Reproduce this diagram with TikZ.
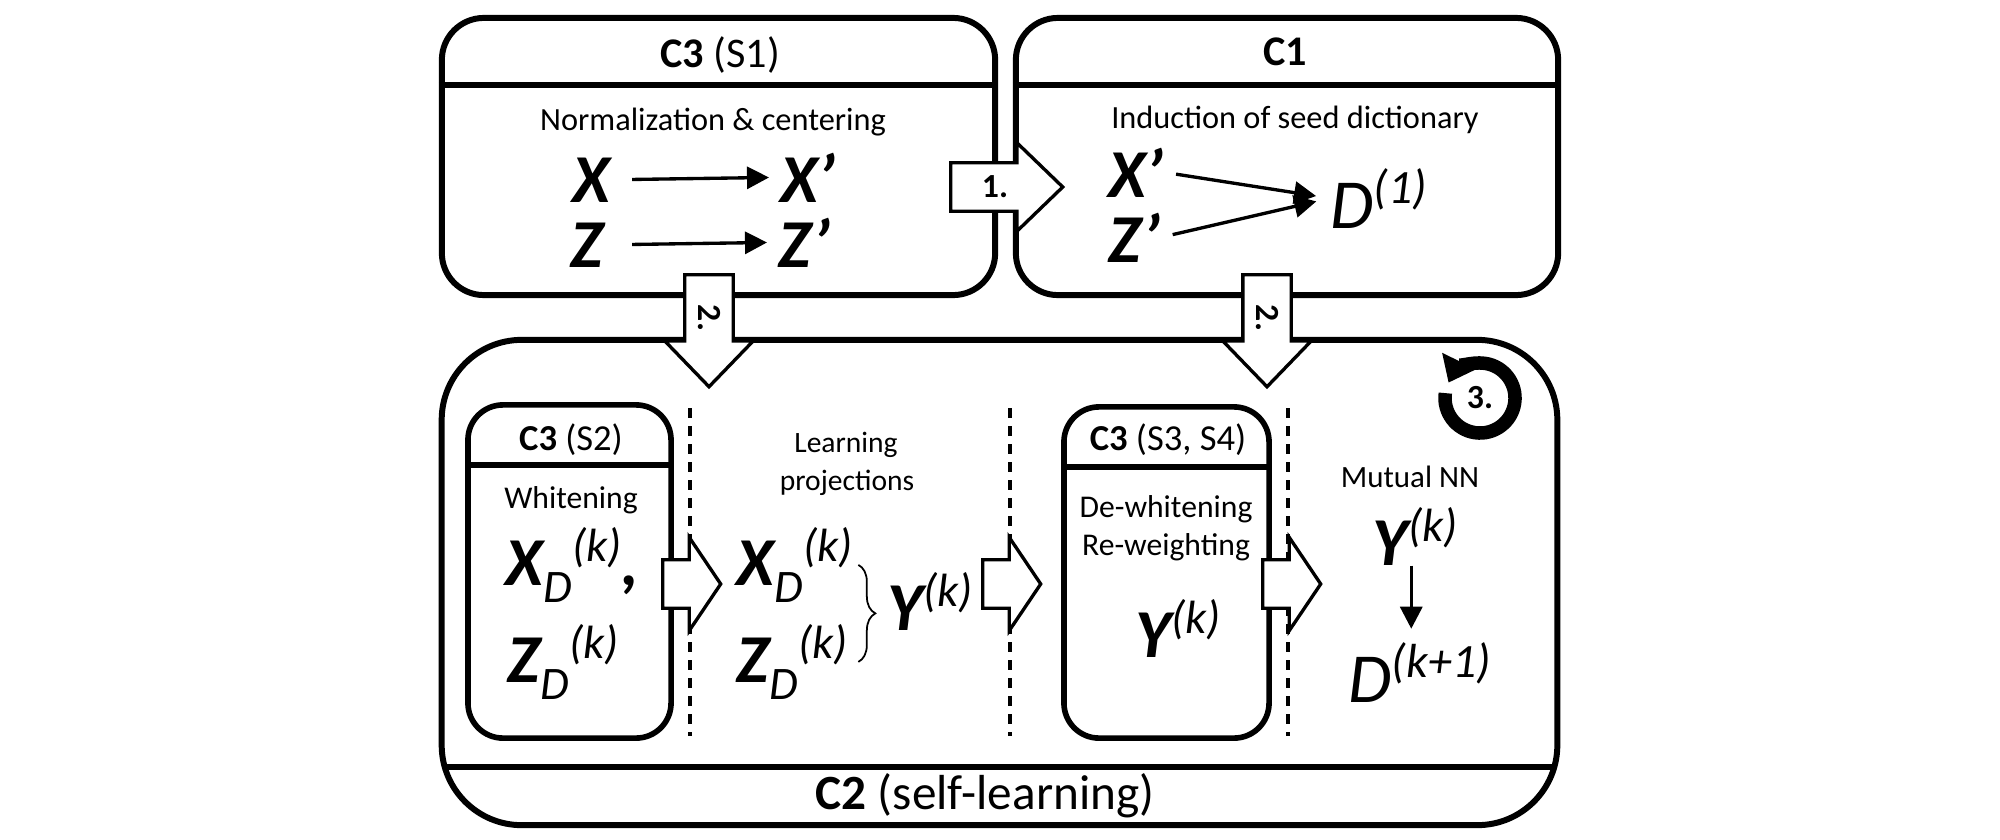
\documentclass[tikz,border=0pt]{standalone}
\usepackage{fontspec}
\setmainfont{Carlito}
\usetikzlibrary{positioning,shapes.arrows,arrows.meta,decorations.pathreplacing}
\newcommand{\idx}[1]{\raisebox{-0.26em}{\scalebox{0.68}{\mdseries\itshape #1}}}
\newcommand{\itr}[1]{\raisebox{0.35em}{\scalebox{0.68}{\mdseries\itshape #1}}}

\begin{document}
\begin{tikzpicture}[x=0.01cm, y=-0.01cm,
		panel/.style = {draw, line width=1.7pt, rounded corners=0.42cm},
		subpanel/.style = {draw, line width=1.6pt, rounded corners=0.35cm},
		boxtitle/.style = {anchor=base, font=\fontsize{12}{14}\selectfont},
		boxtext/.style = {anchor=base, font=\fontsize{9.2}{11}\selectfont},
		smalltext/.style = {anchor=base, font=\fontsize{8.4}{10}\selectfont},
		symb/.style = {anchor=base west, inner sep=0pt, font=\fontsize{19.5}{22}\selectfont\bfseries\itshape},
		dsymb/.style = {symb, font=\fontsize{20}{22}\selectfont\itshape},
		blockarrow/.style = {single arrow, draw, fill=white, line width=0.95pt, inner sep=0pt,
			text height=0.45cm, text depth=0pt, anchor=tail},
		numarrow/.style = {blockarrow, minimum height=1.12cm, single arrow head extend=0.2cm, single arrow tip angle=88},
		flowarrow/.style = {blockarrow, minimum height=0.58cm, single arrow head extend=0.225cm, single arrow tip angle=112},
		numlabel/.style = {inner sep=0pt, font=\fontsize{9.6}{11}\selectfont\bfseries},
		maparrow/.style = {-{Triangle[length=0.22cm, width=0.22cm]}, line width=0.95pt},
		phase/.style = {line width=1.1pt, dash pattern=on 0.1cm off 0.08cm},
		loopring/.style = {line width=0.135cm, -{Triangle[length=0.24cm, width=0.36cm]}}]
	\useasboundingbox (0,0) rectangle (2000,839);

	\node[panel, minimum width=5.53cm, minimum height=2.77cm] (norm) at (718.5,156.5) {};
	\node[panel, minimum width=5.42cm, minimum height=2.77cm] (seed) at (1287,156.5) {};
	\node[panel, rounded corners=0.8cm, minimum width=11.15cm, minimum height=4.85cm] (self) at (999.5,582.5) {};
	\node[subpanel, minimum width=2.03cm, minimum height=3.33cm] (white) at (569.5,571.5) {};
	\node[subpanel, minimum width=2.05cm, minimum height=3.31cm] (dewhite) at (1166.5,572.5) {};

	\draw[line width=1.7pt] ([yshift=-0.70cm]norm.north west) -- ([yshift=-0.70cm]norm.north east);
	\draw[line width=1.7pt] ([yshift=-0.70cm]seed.north west) -- ([yshift=-0.70cm]seed.north east);
	\draw[line width=1.7pt] ([xshift=0.06cm, yshift=0.61cm]self.south west) -- ([xshift=-0.06cm, yshift=0.61cm]self.south east);
	\draw[line width=1.6pt] ([yshift=-0.63cm]white.north west) -- ([yshift=-0.63cm]white.north east);
	\draw[line width=1.6pt] ([yshift=-0.63cm]dewhite.north west) -- ([yshift=-0.63cm]dewhite.north east);

	\node[boxtitle] (normtitle) at (720,67) {\textbf{C3} (S1)};
	\node[boxtext] (normtext) at (713,130) {Normalization \& centering};
	\node[symb] (x0) at (572,202) {X};
	\node[symb] (z0) at (570,267) {Z};
	\node[symb] (x1) at (780,202) {X’};
	\node[symb] (z1) at (778,267) {Z’};
	\draw[maparrow, shorten <=0.21cm, shorten >=0.11cm] (x0.east) -- (x1.west);
	\draw[maparrow, shorten <=0.21cm, shorten >=0.11cm] (z0.east -| x0.east) -- (z1.west);

	\node[boxtitle] (seedtitle) at (1285,65) {\textbf{C1}};
	\node[boxtext] (seedtext) at (1295,128) {Induction of seed dictionary};
	\node[symb] (x2) at (1108,197) {X’};
	\node[symb] (z2) at (1108,262) {Z’};
	\node[dsymb] (d1) at (1330,228) {D\itr{(1)}};
	\draw[maparrow, shorten <=0.12cm, shorten >=0.14cm] (x2.east) -- (d1.west);
	\draw[maparrow, shorten <=0.12cm, shorten >=0.14cm] (z2.east) -- (d1.west);

	\node[boxtitle, font=\fontsize{10.4}{12}\selectfont] (whitetitle) at (571,450) {\textbf{C3} (S2)};
	\node[boxtext, font=\fontsize{9}{10}\selectfont] (whitetext) at (571,508) {Whitening};
	\node[symb] (xw) at (505,585) {X\idx{D}\itr{(k)},};
	\node[symb] (zw) at (507,682) {Z\idx{D}\itr{(k)}};

	\node[smalltext] (learn1) at (846,452) {Learning};
	\node[smalltext] (learn2) at (847,490) {projections};
	\node[symb] (xp) at (736,585) {X\idx{D}\itr{(k)}};
	\node[symb] (zp) at (736,682) {Z\idx{D}\itr{(k)}};
	\draw[line width=0.5pt, decorate, decoration={brace, amplitude=0.17cm}]
		([xshift=0.05cm]xp.east) -- ([xshift=0.05cm]xp.east |- zp.east);
	\node[symb] (yp) at (887,630) {Y\itr{(k)}};

	\node[boxtitle, font=\fontsize{10.4}{12}\selectfont] (dewhitetitle) at (1168,450) {\textbf{C3} (S3, S4)};
	\node[boxtext, font=\fontsize{9}{10}\selectfont] (dewhite1) at (1166,517) {De-whitening};
	\node[boxtext, font=\fontsize{9}{10}\selectfont] (dewhite2) at (1166,555) {Re-weighting};
	\node[symb] (yd) at (1135,657) {Y\itr{(k)}};

	\node[smalltext, font=\fontsize{8.8}{10}\selectfont] (mnn) at (1410,487) {Mutual NN};
	\node[symb] (ym) at (1372,565) {Y\itr{(k)}};
	\node[dsymb] (dk) at (1348,702) {D\itr{(k+1)}};
	\draw[maparrow, shorten >=0.13cm] ([xshift=-0.04cm]ym.south) -- ([xshift=-0.04cm]ym.south |- dk.north);

	\node[boxtitle, font=\fontsize{14}{16}\selectfont] (selftitle) at (985,809) {\textbf{C2} (self-learning)};

	\foreach \x in {690,1010,1288}
		\draw[phase] (\x,408) -- (\x,736);

	\node[flowarrow] (f1) at (661,584) {};
	\node[flowarrow] (f2) at (981,584) {};
	\node[flowarrow] (f3) at (1261,584) {};

	\node[numarrow] (s1) at (949,187) {};
	\node[numarrow, rotate=-90] (s2a) at (709,273) {};
	\node[numarrow, rotate=-90] (s2b) at (1267,273) {};
	\node[numlabel] at ([xshift=0.46cm]s1.tail) {1.};
	\node[numlabel, rotate=-90] at ([yshift=-0.45cm]s2a.tail) {2.};
	\node[numlabel, rotate=-90] at ([yshift=-0.45cm]s2b.tail) {2.};

	\node[numlabel] (it) at (1480,398) {3.};
	\draw[loopring] ([shift={(172:0.35cm)}]it.center) arc[start angle=172, end angle=514, radius=0.35cm];
\end{tikzpicture}
\end{document}
